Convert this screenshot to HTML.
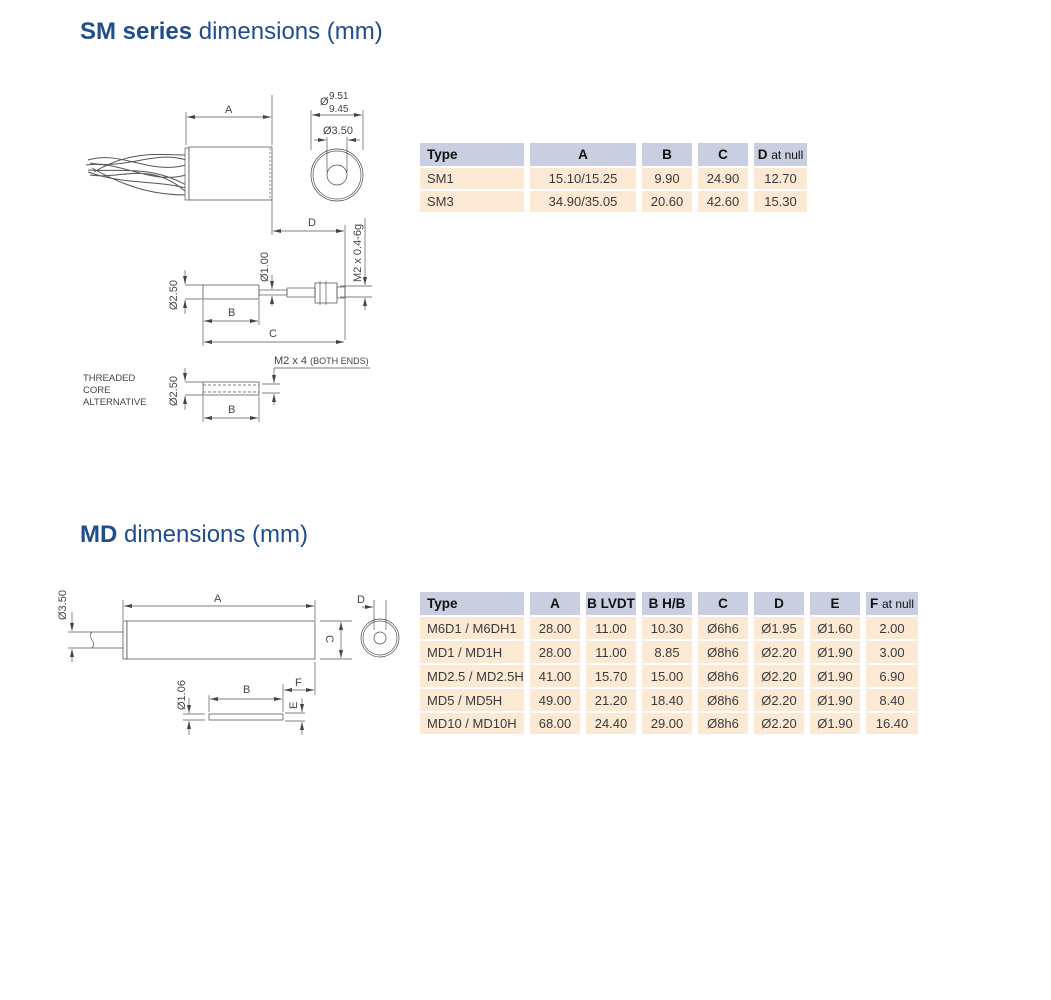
<!DOCTYPE html>
<html><head><meta charset="utf-8"><style>
body{margin:0;width:1051px;height:1000px;background:#fff;position:relative;font-family:"Liberation Sans",Arial,sans-serif;overflow:hidden}
.t{position:absolute;color:#1f4e8c;font-size:24px;left:80px;white-space:nowrap}
.t b{font-weight:bold}
.c{position:absolute;font-size:13px;color:#3a3a3a;display:flex;align-items:center;justify-content:center;box-sizing:border-box}
.h{background:#c9cee0;color:#111;font-size:13.5px}
.r{background:#fce9d4}
.l{justify-content:flex-start;padding-left:7px}
</style></head><body>
<div class="t" style="top:18px"><b>SM series</b> dimensions (mm)</div>
<div class="t" style="top:521px"><b>MD</b> dimensions (mm)</div>

<!-- SM table -->
<div class="c h l" style="left:420px;top:143px;width:104px;height:23px"><b>Type</b></div>
<div class="c h" style="left:530px;top:143px;width:106px;height:23px"><b>A</b></div>
<div class="c h" style="left:642px;top:143px;width:50px;height:23px"><b>B</b></div>
<div class="c h" style="left:698px;top:143px;width:50px;height:23px"><b>C</b></div>
<div class="c h" style="left:754px;top:143px;width:53px;height:23px"><span><b>D</b> <span style="font-size:12px">at null</span></span></div>
<div class="c r l" style="left:420px;top:168px;width:104px;height:21px">SM1</div>
<div class="c r" style="left:530px;top:168px;width:106px;height:21px">15.10/15.25</div>
<div class="c r" style="left:642px;top:168px;width:50px;height:21px">9.90</div>
<div class="c r" style="left:698px;top:168px;width:50px;height:21px">24.90</div>
<div class="c r" style="left:754px;top:168px;width:53px;height:21px">12.70</div>
<div class="c r l" style="left:420px;top:191px;width:104px;height:21px">SM3</div>
<div class="c r" style="left:530px;top:191px;width:106px;height:21px">34.90/35.05</div>
<div class="c r" style="left:642px;top:191px;width:50px;height:21px">20.60</div>
<div class="c r" style="left:698px;top:191px;width:50px;height:21px">42.60</div>
<div class="c r" style="left:754px;top:191px;width:53px;height:21px">15.30</div>

<!-- MD table -->
<div class="c h l" style="left:420px;top:592px;width:104px;height:23px"><b>Type</b></div>
<div class="c h" style="left:530px;top:592px;width:50px;height:23px"><b>A</b></div>
<div class="c h" style="left:586px;top:592px;width:50px;height:23px"><b>B LVDT</b></div>
<div class="c h" style="left:642px;top:592px;width:50px;height:23px"><b>B H/B</b></div>
<div class="c h" style="left:698px;top:592px;width:50px;height:23px"><b>C</b></div>
<div class="c h" style="left:754px;top:592px;width:50px;height:23px"><b>D</b></div>
<div class="c h" style="left:810px;top:592px;width:50px;height:23px"><b>E</b></div>
<div class="c h" style="left:866px;top:592px;width:52px;height:23px"><span><b>F</b> <span style="font-size:12px">at null</span></span></div>

<div class="c r l" style="left:420px;top:617px;width:104px;height:22px">M6D1 / M6DH1</div>
<div class="c r" style="left:530px;top:617px;width:50px;height:22px">28.00</div>
<div class="c r" style="left:586px;top:617px;width:50px;height:22px">11.00</div>
<div class="c r" style="left:642px;top:617px;width:50px;height:22px">10.30</div>
<div class="c r" style="left:698px;top:617px;width:50px;height:22px">Ø6h6</div>
<div class="c r" style="left:754px;top:617px;width:50px;height:22px">Ø1.95</div>
<div class="c r" style="left:810px;top:617px;width:50px;height:22px">Ø1.60</div>
<div class="c r" style="left:866px;top:617px;width:52px;height:22px">2.00</div>

<div class="c r l" style="left:420px;top:641px;width:104px;height:22px">MD1 / MD1H</div>
<div class="c r" style="left:530px;top:641px;width:50px;height:22px">28.00</div>
<div class="c r" style="left:586px;top:641px;width:50px;height:22px">11.00</div>
<div class="c r" style="left:642px;top:641px;width:50px;height:22px">8.85</div>
<div class="c r" style="left:698px;top:641px;width:50px;height:22px">Ø8h6</div>
<div class="c r" style="left:754px;top:641px;width:50px;height:22px">Ø2.20</div>
<div class="c r" style="left:810px;top:641px;width:50px;height:22px">Ø1.90</div>
<div class="c r" style="left:866px;top:641px;width:52px;height:22px">3.00</div>

<div class="c r l" style="left:420px;top:665px;width:104px;height:22px">MD2.5 / MD2.5H</div>
<div class="c r" style="left:530px;top:665px;width:50px;height:22px">41.00</div>
<div class="c r" style="left:586px;top:665px;width:50px;height:22px">15.70</div>
<div class="c r" style="left:642px;top:665px;width:50px;height:22px">15.00</div>
<div class="c r" style="left:698px;top:665px;width:50px;height:22px">Ø8h6</div>
<div class="c r" style="left:754px;top:665px;width:50px;height:22px">Ø2.20</div>
<div class="c r" style="left:810px;top:665px;width:50px;height:22px">Ø1.90</div>
<div class="c r" style="left:866px;top:665px;width:52px;height:22px">6.90</div>

<div class="c r l" style="left:420px;top:689px;width:104px;height:22px">MD5 / MD5H</div>
<div class="c r" style="left:530px;top:689px;width:50px;height:22px">49.00</div>
<div class="c r" style="left:586px;top:689px;width:50px;height:22px">21.20</div>
<div class="c r" style="left:642px;top:689px;width:50px;height:22px">18.40</div>
<div class="c r" style="left:698px;top:689px;width:50px;height:22px">Ø8h6</div>
<div class="c r" style="left:754px;top:689px;width:50px;height:22px">Ø2.20</div>
<div class="c r" style="left:810px;top:689px;width:50px;height:22px">Ø1.90</div>
<div class="c r" style="left:866px;top:689px;width:52px;height:22px">8.40</div>

<div class="c r l" style="left:420px;top:713px;width:104px;height:21px">MD10 / MD10H</div>
<div class="c r" style="left:530px;top:713px;width:50px;height:21px">68.00</div>
<div class="c r" style="left:586px;top:713px;width:50px;height:21px">24.40</div>
<div class="c r" style="left:642px;top:713px;width:50px;height:21px">29.00</div>
<div class="c r" style="left:698px;top:713px;width:50px;height:21px">Ø8h6</div>
<div class="c r" style="left:754px;top:713px;width:50px;height:21px">Ø2.20</div>
<div class="c r" style="left:810px;top:713px;width:50px;height:21px">Ø1.90</div>
<div class="c r" style="left:866px;top:713px;width:52px;height:21px">16.40</div>

<svg width="1051" height="1000" style="position:absolute;left:0;top:0" font-family="Liberation Sans,Arial,sans-serif" font-size="11" fill="#444">
<defs><marker id="a" markerWidth="8" markerHeight="6" refX="8" refY="3" orient="auto-start-reverse" markerUnits="userSpaceOnUse"><path d="M0,1 L8,3 L0,5z" fill="#444"/></marker></defs>
<g stroke="#555" stroke-width="0.7" fill="none">
<!-- SM body -->
<g stroke="#555" stroke-width="1">
<path d="M88,160 C120,150 150,175 186,165 M86,165 C120,160 150,185 186,175 M88,170 C120,172 150,165 186,185 M90,175 C120,180 150,160 186,192 M92,168 C130,190 160,195 186,195 M94,172 C130,150 160,155 186,155 M90,163 C125,170 155,150 186,160 M88,172 C125,185 155,180 186,188"/>
</g>
<rect x="185" y="148" width="4" height="52" fill="#fff"/>
<rect x="189" y="147" width="83" height="53" fill="#fff" stroke="#444"/>
<line x1="270" y1="148" x2="270" y2="199" stroke-dasharray="2,2"/>
<line x1="186" y1="112" x2="186" y2="145"/><line x1="272" y1="95" x2="272" y2="145"/>
<line x1="187" y1="117" x2="271" y2="117" marker-start="url(#a)" marker-end="url(#a)"/>
<circle cx="337" cy="175" r="26" stroke="#444"/><circle cx="337" cy="175" r="24"/><circle cx="337" cy="175" r="10" stroke="#444"/>
<line x1="311" y1="110" x2="311" y2="150"/><line x1="363" y1="110" x2="363" y2="150"/>
<line x1="312" y1="115" x2="362" y2="115" marker-start="url(#a)" marker-end="url(#a)"/>
<line x1="327" y1="137" x2="327" y2="172"/><line x1="347" y1="137" x2="347" y2="172"/>
<line x1="314" y1="140" x2="326" y2="140" marker-end="url(#a)"/><line x1="360" y1="140" x2="348" y2="140" marker-end="url(#a)"/>
<!-- D -->
<line x1="272" y1="200" x2="272" y2="235"/>
<line x1="273" y1="231" x2="344" y2="231" marker-start="url(#a)" marker-end="url(#a)"/>
<line x1="345" y1="225" x2="345" y2="340"/>
<line x1="365" y1="218" x2="365" y2="285" marker-end="url(#a)"/><line x1="365" y1="310" x2="365" y2="298" marker-end="url(#a)"/>
<line x1="340" y1="286" x2="372" y2="286"/><line x1="340" y1="297" x2="372" y2="297"/>
<!-- core -->
<rect x="203" y="285" width="56" height="14" fill="#fff" stroke="#444"/>
<rect x="259" y="290" width="28" height="5"/>
<rect x="287" y="288" width="28" height="9"/>
<rect x="315" y="283" width="22" height="20" stroke="#444"/>
<line x1="320" y1="281" x2="320" y2="305"/><line x1="326" y1="281" x2="326" y2="305"/>
<rect x="337" y="287" width="8" height="11"/>
<line x1="185" y1="285" x2="203" y2="285"/><line x1="185" y1="299" x2="203" y2="299"/>
<line x1="185" y1="270" x2="185" y2="284" marker-end="url(#a)"/><line x1="185" y1="314" x2="185" y2="300" marker-end="url(#a)"/>
<line x1="272" y1="275" x2="272" y2="289" marker-end="url(#a)"/><line x1="272" y1="306" x2="272" y2="296" marker-end="url(#a)"/>
<line x1="203" y1="300" x2="203" y2="346"/><line x1="259" y1="300" x2="259" y2="325"/>
<line x1="204" y1="321" x2="258" y2="321" marker-start="url(#a)" marker-end="url(#a)"/>
<line x1="204" y1="342" x2="344" y2="342" marker-start="url(#a)" marker-end="url(#a)"/>
<!-- threaded -->
<rect x="203" y="382" width="56" height="13" fill="#fff" stroke="#444"/>
<path d="M203,385 H259 M203,392 H259" stroke-dasharray="3,2"/>
<line x1="185" y1="382" x2="203" y2="382"/><line x1="185" y1="395" x2="203" y2="395"/>
<line x1="185" y1="368" x2="185" y2="381" marker-end="url(#a)"/><line x1="185" y1="410" x2="185" y2="396" marker-end="url(#a)"/>
<line x1="262" y1="384" x2="280" y2="384"/><line x1="262" y1="393" x2="280" y2="393"/>
<line x1="274" y1="368" x2="274" y2="383" marker-end="url(#a)"/><line x1="274" y1="405" x2="274" y2="394" marker-end="url(#a)"/>
<line x1="274" y1="368" x2="370" y2="368"/>
<line x1="203" y1="396" x2="203" y2="422"/><line x1="259" y1="396" x2="259" y2="422"/>
<line x1="204" y1="418" x2="258" y2="418" marker-start="url(#a)" marker-end="url(#a)"/>

<!-- MD -->
<path d="M88,632 H124 M88,648 H124 M92,632 C86,638 98,642 92,648"/>
<rect x="123" y="621" width="4" height="38" fill="#fff" stroke="#444"/>
<rect x="127" y="621" width="188" height="38" fill="#fff" stroke="#444"/>
<line x1="123" y1="600" x2="123" y2="620"/><line x1="315" y1="600" x2="315" y2="620"/>
<line x1="124" y1="606" x2="314" y2="606" marker-start="url(#a)" marker-end="url(#a)"/>
<line x1="68" y1="632" x2="88" y2="632"/><line x1="68" y1="648" x2="88" y2="648"/>
<line x1="72" y1="612" x2="72" y2="631" marker-end="url(#a)"/><line x1="72" y1="662" x2="72" y2="649" marker-end="url(#a)"/>
<line x1="320" y1="621" x2="352" y2="621"/><line x1="320" y1="659" x2="352" y2="659"/>
<line x1="341" y1="622" x2="341" y2="658" marker-start="url(#a)" marker-end="url(#a)"/>
<circle cx="380" cy="638" r="19" stroke="#444"/><circle cx="380" cy="638" r="17"/><circle cx="380" cy="638" r="6" stroke="#444"/>
<line x1="374" y1="600" x2="374" y2="630"/><line x1="386" y1="600" x2="386" y2="630"/>
<line x1="362" y1="607" x2="373" y2="607" marker-end="url(#a)"/>
<line x1="315" y1="662" x2="315" y2="695"/>
<rect x="209" y="714" width="74" height="6" fill="#fff" stroke="#444"/>
<line x1="209" y1="695" x2="209" y2="712"/><line x1="283" y1="684" x2="283" y2="712"/>
<line x1="210" y1="699" x2="282" y2="699" marker-start="url(#a)" marker-end="url(#a)"/>
<line x1="284" y1="690" x2="314" y2="690" marker-start="url(#a)" marker-end="url(#a)"/>
<line x1="285" y1="713" x2="305" y2="713"/><line x1="285" y1="721" x2="305" y2="721"/>
<line x1="302" y1="698" x2="302" y2="712" marker-end="url(#a)"/><line x1="302" y1="735" x2="302" y2="722" marker-end="url(#a)"/>
<line x1="183" y1="714" x2="205" y2="714"/><line x1="183" y1="720" x2="205" y2="720"/>
<line x1="189" y1="698" x2="189" y2="713" marker-end="url(#a)"/><line x1="189" y1="735" x2="189" y2="721" marker-end="url(#a)"/>
</g>
<g stroke="none">
<text x="225" y="113">A</text>
<text x="320" y="105">Ø</text><text x="329" y="99" font-size="10">9.51</text><text x="329" y="112" font-size="10">9.45</text>
<text x="323" y="134">Ø3.50</text>
<text x="308" y="226">D</text>
<text transform="translate(361,282) rotate(-90)">M2 x 0.4-6g</text>
<text transform="translate(177,310) rotate(-90)">Ø2.50</text>
<text transform="translate(268,282) rotate(-90)">Ø1.00</text>
<text x="228" y="316">B</text>
<text x="269" y="337">C</text>
<text x="274" y="364">M2 x 4 <tspan font-size="9">(BOTH ENDS)</tspan></text>
<text x="83" y="381" font-size="9.5">THREADED</text><text x="83" y="393" font-size="9.5">CORE</text><text x="83" y="405" font-size="9.5">ALTERNATIVE</text>
<text transform="translate(177,406) rotate(-90)">Ø2.50</text>
<text x="228" y="413">B</text>
<text x="214" y="602">A</text>
<text transform="translate(66,620) rotate(-90)">Ø3.50</text>
<text transform="translate(326,635) rotate(90)">C</text>
<text x="357" y="603">D</text>
<text x="243" y="693">B</text>
<text x="295" y="686">F</text>
<text transform="translate(297,709) rotate(-90)">E</text>
<text transform="translate(185,710) rotate(-90)">Ø1.06</text>
</g>
</svg>
</body></html>
